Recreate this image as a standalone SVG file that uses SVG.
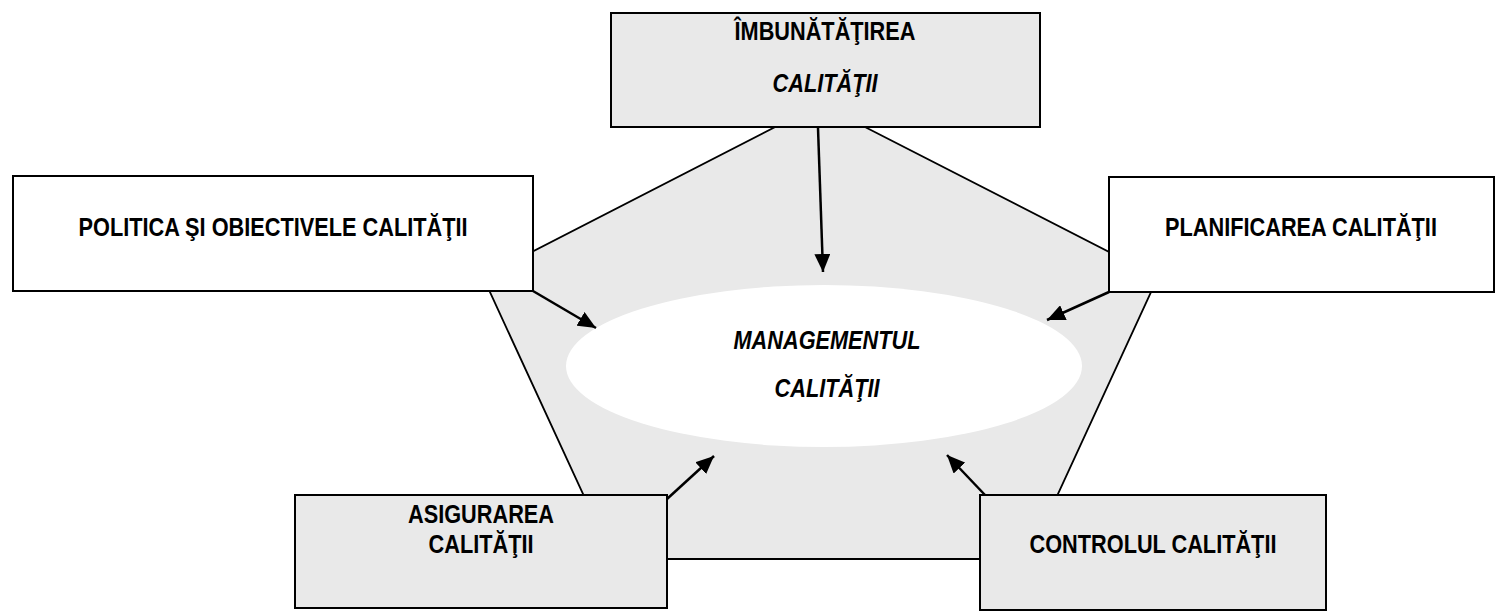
<svg xmlns="http://www.w3.org/2000/svg" width="1499" height="613" viewBox="0 0 1499 613">
<style>
.box{stroke:#000;stroke-width:2}
.gray{fill:#e9e9e9}
.white{fill:#fff}
.t{font-family:"Liberation Sans",Arial,sans-serif;font-weight:bold;font-size:26.5px;fill:#000;text-anchor:middle}
.i{font-style:italic}
.arr{stroke:#000;stroke-width:2.5;fill:none;marker-end:url(#ah)}
</style>
<defs>
<marker id="ah" markerUnits="userSpaceOnUse" markerWidth="20" markerHeight="16" refX="18" refY="8" orient="auto">
<path d="M0,0 L18,8 L0,16 Z" fill="#000"/>
</marker>
</defs>
<g id="pentagon">
<polygon points="820,104 1158,277 1028,559 613,559 483,277" fill="#e9e9e9" stroke="#000" stroke-width="1.8"/>
</g>
<g id="center">
<ellipse cx="824" cy="366" rx="258" ry="81" fill="#fff"/>
<text class="t i" transform="translate(827,349) scale(0.82,1)">MANAGEMENTUL</text>
<text class="t i" transform="translate(827,397) scale(0.82,1)">CALITĂŢII</text>
</g>
<g id="connectors">
<line class="arr" x1="818" y1="128" x2="823" y2="272"/>
<line class="arr" x1="533" y1="291" x2="596" y2="328"/>
<line class="arr" x1="1109" y1="292" x2="1047" y2="320"/>
<line class="arr" x1="667" y1="499" x2="714" y2="456"/>
<line class="arr" x1="985" y1="495" x2="947" y2="455"/>
</g>
<g id="imbunatatirea">
<rect class="box gray" x="611" y="13" width="429" height="114"/>
<text class="t" transform="translate(825,40) scale(0.82,1)">ÎMBUNĂTĂŢIREA</text>
<text class="t i" transform="translate(825,92) scale(0.82,1)">CALITĂŢII</text>
</g>
<g id="politica">
<rect class="box white" x="13" y="176" width="520" height="115"/>
<text class="t" transform="translate(273,236) scale(0.82,1)">POLITICA ŞI OBIECTIVELE CALITĂŢII</text>
</g>
<g id="planificarea">
<rect class="box white" x="1109" y="177" width="385" height="115"/>
<text class="t" transform="translate(1301,236) scale(0.82,1)">PLANIFICAREA CALITĂŢII</text>
</g>
<g id="asigurarea">
<rect class="box gray" x="295" y="495" width="372" height="113"/>
<text class="t" transform="translate(481,523) scale(0.82,1)">ASIGURAREA</text>
<text class="t" transform="translate(481,553) scale(0.82,1)">CALITĂŢII</text>
</g>
<g id="controlul">
<rect class="box gray" x="980" y="495" width="346" height="115"/>
<text class="t" transform="translate(1153,553) scale(0.82,1)">CONTROLUL CALITĂŢII</text>
</g>
</svg>
